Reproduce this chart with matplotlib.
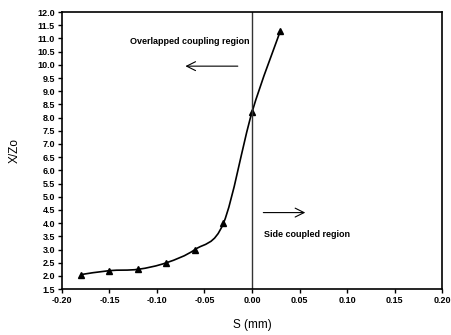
import numpy as np
import matplotlib.pyplot as plt
from matplotlib.path import Path
from matplotlib.patches import PathPatch

# Dados
s = [-0.18, -0.15, -0.12, -0.09, -0.06, -0.03, 0.00, 0.03]
xz = [2.05, 2.2, 2.25, 2.5, 3.0, 4.0, 8.2, 11.3]

plt.rcParams['font.family'] = ['Liberation Sans', 'DejaVu Sans']
plt.rcParams['font.weight'] = 'bold'

fig = plt.figure(figsize=(4.52, 3.35), dpi=100)
ax = fig.add_axes([0.137, 0.137, 0.841, 0.827])

# curva suave (Catmull-Rom como Bezier)
px = np.array(s)
py = np.array(xz)
verts = [(px[0], py[0])]
codes = [Path.MOVETO]
for i in range(len(px) - 1):
    p0 = (px[max(i - 1, 0)], py[max(i - 1, 0)])
    p1 = (px[i], py[i])
    p2 = (px[i + 1], py[i + 1])
    p3 = (px[min(i + 2, len(px) - 1)], py[min(i + 2, len(px) - 1)])
    c1 = (p1[0] + (p2[0] - p0[0]) / 6, p1[1] + (p2[1] - p0[1]) / 6)
    c2 = (p2[0] - (p3[0] - p1[0]) / 6, p2[1] - (p3[1] - p1[1]) / 6)
    verts += [c1, c2, p2]
    codes += [Path.CURVE4] * 3
ax.add_patch(PathPatch(Path(verts, codes), fill=False, lw=1.2, color='black'))
ax.plot(s, xz, linestyle='none', marker='^', color='black', markersize=5)

ax.axvline(0, color='#333333', lw=1.0)

ax.set_xlim(-0.20, 0.20)
ax.set_ylim(1.5, 12.0)
ax.set_xticks(np.arange(-0.20, 0.201, 0.05))
ax.set_xticklabels(['-0.20', '-0.15', '-0.10', '-0.05', '0.00', '0.05', '0.10', '0.15', '0.20'])
ax.set_yticks(np.arange(1.5, 12.01, 0.5))
ax.set_yticklabels(['%.1f' % v for v in np.arange(1.5, 12.01, 0.5)])
ax.tick_params(labelsize=6.5, length=3, width=1, direction='out', pad=2)
for sp in ax.spines.values():
    sp.set_linewidth(1.2)

ax.set_xlabel('S (mm)', fontsize=8.5, fontweight='normal', labelpad=10)
ax.set_ylabel('X/Zo', fontsize=8.5, fontweight='normal', labelpad=12)

ax.text(-0.128, 10.9, 'Overlapped coupling region', fontsize=6.5, va='center')
ax.annotate('', xy=(-0.073, 9.95), xytext=(-0.012, 9.95),
            arrowprops=dict(arrowstyle='->', lw=0.8, color='black', mutation_scale=16))
ax.annotate('', xy=(0.059, 4.4), xytext=(0.009, 4.4),
            arrowprops=dict(arrowstyle='->', lw=0.8, color='black', mutation_scale=16))
ax.text(0.013, 3.58, 'Side coupled region', fontsize=6.5, va='center')

fig.savefig('out.png', dpi=100)
